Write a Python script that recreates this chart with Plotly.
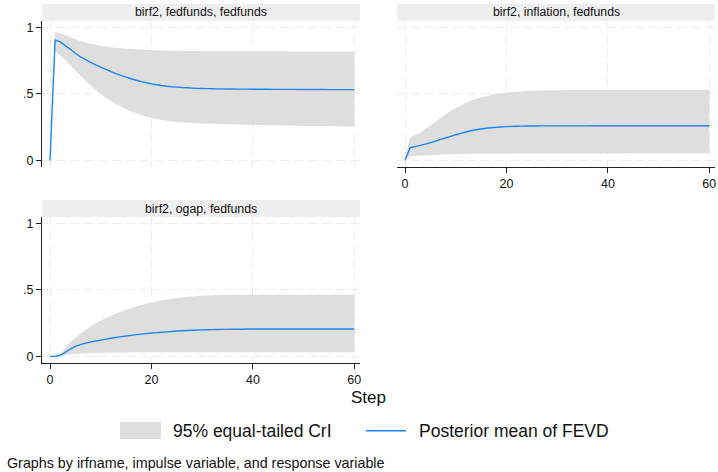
import plotly.graph_objects as go

# ---------------- data ----------------
steps = list(range(61))

titles = ["birf2, fedfunds, fedfunds", "birf2, inflation, fedfunds", "birf2, ogap, fedfunds"]

ff_mean = [0.000, 0.905, 0.890, 0.862, 0.835, 0.805, 0.778, 0.757, 0.737, 0.718,
           0.700, 0.683, 0.667, 0.652, 0.638, 0.625, 0.613, 0.602, 0.592, 0.583,
           0.575, 0.568, 0.562, 0.557, 0.553, 0.550, 0.547, 0.545, 0.543, 0.541,
           0.540, 0.539, 0.538, 0.537, 0.537, 0.536, 0.536, 0.535, 0.535, 0.535,
           0.534, 0.534, 0.534, 0.534, 0.533, 0.533, 0.533, 0.533, 0.533, 0.532,
           0.532, 0.532, 0.532, 0.532, 0.532, 0.531, 0.531, 0.531, 0.531, 0.531, 0.531]
ff_upper = [0.000, 0.967, 0.955, 0.940, 0.925, 0.910, 0.897, 0.886, 0.876, 0.868,
            0.861, 0.855, 0.850, 0.846, 0.842, 0.839, 0.836, 0.834, 0.832, 0.830,
            0.828, 0.827, 0.826, 0.825, 0.824, 0.823, 0.822, 0.822, 0.821, 0.821,
            0.820, 0.820, 0.820, 0.820, 0.820, 0.820, 0.820, 0.819, 0.819, 0.819,
            0.819, 0.819, 0.819, 0.819, 0.819, 0.819, 0.819, 0.818, 0.818, 0.818,
            0.818, 0.818, 0.818, 0.818, 0.818, 0.818, 0.818, 0.818, 0.818, 0.818, 0.818]
ff_lower = [0.000, 0.817, 0.790, 0.755, 0.715, 0.676, 0.638, 0.600, 0.563, 0.530,
            0.499, 0.471, 0.446, 0.423, 0.402, 0.384, 0.368, 0.353, 0.340, 0.328,
            0.318, 0.310, 0.303, 0.297, 0.292, 0.288, 0.285, 0.283, 0.281, 0.279,
            0.277, 0.276, 0.275, 0.274, 0.273, 0.272, 0.271, 0.270, 0.269, 0.268,
            0.267, 0.266, 0.265, 0.264, 0.263, 0.262, 0.262, 0.261, 0.260, 0.260,
            0.259, 0.259, 0.258, 0.258, 0.257, 0.257, 0.256, 0.256, 0.255, 0.255, 0.254]

inf_mean = [0.000, 0.095, 0.103, 0.112, 0.122, 0.133, 0.145, 0.157, 0.168, 0.180,
            0.192, 0.203, 0.213, 0.222, 0.230, 0.236, 0.241, 0.245, 0.248, 0.251,
            0.253, 0.255, 0.256, 0.257, 0.258, 0.258, 0.258, 0.259, 0.259, 0.259,
            0.259, 0.259, 0.259, 0.259, 0.259, 0.259, 0.259, 0.260, 0.260, 0.260,
            0.260, 0.260, 0.260, 0.260, 0.260, 0.260, 0.260, 0.260, 0.260, 0.260,
            0.260, 0.260, 0.260, 0.260, 0.260, 0.260, 0.260, 0.260, 0.260, 0.260, 0.260]
inf_upper = [0.000, 0.173, 0.190, 0.210, 0.235, 0.262, 0.290, 0.318, 0.345, 0.370,
             0.393, 0.413, 0.432, 0.448, 0.461, 0.472, 0.482, 0.491, 0.498, 0.504,
             0.509, 0.513, 0.516, 0.519, 0.521, 0.523, 0.524, 0.525, 0.526, 0.527,
             0.527, 0.527, 0.528, 0.528, 0.528, 0.528, 0.528, 0.528, 0.528, 0.528,
             0.528, 0.528, 0.528, 0.528, 0.528, 0.528, 0.528, 0.528, 0.528, 0.528,
             0.528, 0.528, 0.528, 0.528, 0.528, 0.528, 0.528, 0.528, 0.528, 0.528, 0.528]
inf_lower = [0.000, 0.028, 0.032, 0.035, 0.037, 0.039, 0.041, 0.043, 0.044, 0.046,
             0.047, 0.048, 0.048, 0.049, 0.049, 0.050, 0.050, 0.050, 0.050, 0.050,
             0.051, 0.051, 0.051, 0.051, 0.051, 0.051, 0.051, 0.052, 0.052, 0.052,
             0.052, 0.052, 0.052, 0.052, 0.052, 0.052, 0.052, 0.052, 0.052, 0.052,
             0.052, 0.052, 0.052, 0.052, 0.053, 0.053, 0.053, 0.053, 0.053, 0.053,
             0.053, 0.053, 0.053, 0.053, 0.053, 0.053, 0.053, 0.053, 0.053, 0.053, 0.053]

og_mean = [0.000, 0.000, 0.008, 0.030, 0.055, 0.075, 0.088, 0.099, 0.107, 0.115,
           0.122, 0.129, 0.136, 0.142, 0.148, 0.153, 0.158, 0.163, 0.167, 0.171,
           0.175, 0.178, 0.181, 0.184, 0.187, 0.190, 0.192, 0.194, 0.196, 0.198,
           0.199, 0.200, 0.201, 0.202, 0.203, 0.203, 0.204, 0.204, 0.204, 0.205,
           0.205, 0.205, 0.205, 0.205, 0.205, 0.205, 0.205, 0.205, 0.205, 0.205,
           0.205, 0.205, 0.205, 0.205, 0.205, 0.205, 0.205, 0.205, 0.205, 0.205, 0.205]
og_upper = [0.000, 0.000, 0.012, 0.063, 0.105, 0.140, 0.172, 0.200, 0.225, 0.248,
            0.269, 0.288, 0.305, 0.321, 0.336, 0.350, 0.363, 0.375, 0.386, 0.396,
            0.405, 0.413, 0.420, 0.427, 0.433, 0.438, 0.443, 0.447, 0.450, 0.453,
            0.455, 0.457, 0.459, 0.460, 0.461, 0.462, 0.462, 0.463, 0.463, 0.463,
            0.463, 0.463, 0.463, 0.463, 0.463, 0.463, 0.463, 0.463, 0.463, 0.463,
            0.463, 0.463, 0.463, 0.463, 0.463, 0.463, 0.463, 0.463, 0.463, 0.463, 0.463]
og_lower = [0.000, 0.000, 0.003, 0.010, 0.016, 0.020, 0.022, 0.024, 0.025, 0.026,
            0.027, 0.028, 0.028, 0.029, 0.029, 0.029, 0.030, 0.030, 0.030, 0.030,
            0.030, 0.030, 0.030, 0.030, 0.030, 0.030, 0.030, 0.030, 0.030, 0.030,
            0.030, 0.030, 0.030, 0.030, 0.030, 0.030, 0.030, 0.030, 0.030, 0.030,
            0.030, 0.030, 0.030, 0.030, 0.030, 0.030, 0.030, 0.030, 0.030, 0.030,
            0.030, 0.030, 0.030, 0.030, 0.030, 0.030, 0.030, 0.030, 0.030, 0.030, 0.030]

x_ticks = [0, 20, 40, 60]
y_ticks = [0, 0.5, 1]
y_ticklabels = ["0", ".5", "1"]

legend_labels = ["95% equal-tailed CrI", "Posterior mean of FEVD"]
x_title = "Step"
note = "Graphs by irfname, impulse variable, and response variable"

# ---------------- styling ----------------
W, H = 718, 472
FONT = "Liberation Sans, Arial, Helvetica, sans-serif"
BAND = "#dedede"
LINE = "#1a85ff"
STRIP = "#efefef"
AXC = "#222222"
GRID = "#ececec"

def xd(a, b):
    return [a / W, b / W]

def yd(top, bottom):
    return [1 - bottom / H, 1 - top / H]

panels = [
    dict(data=(ff_mean, ff_upper, ff_lower), x=(42, 360), y=(21, 167), xline=False, yline=True),
    dict(data=(inf_mean, inf_upper, inf_lower), x=(397, 715), y=(21, 167), xline=True, yline=False),
    dict(data=(og_mean, og_upper, og_lower), x=(42, 360), y=(217, 363), xline=True, yline=True),
]

fig = go.Figure()
shapes = []
annotations = []

for i, p in enumerate(panels):
    n = "" if i == 0 else str(i + 1)
    xa, ya = "x" + n, "y" + n
    mean, upper, lower = p["data"]
    fig.add_trace(go.Scatter(x=steps, y=lower, mode="lines",
                             line=dict(width=0, color=BAND, simplify=False),
                             xaxis=xa, yaxis=ya, showlegend=False, hoverinfo="skip"))
    fig.add_trace(go.Scatter(x=steps, y=upper, mode="lines",
                             line=dict(width=0, color=BAND, simplify=False),
                             fill="tonexty", fillcolor=BAND,
                             xaxis=xa, yaxis=ya, showlegend=False, hoverinfo="skip"))
    fig.add_trace(go.Scatter(x=steps, y=mean, mode="lines",
                             line=dict(width=1.4, color=LINE, simplify=False),
                             xaxis=xa, yaxis=ya, showlegend=False))

    xk = "xaxis" + n
    yk = "yaxis" + n
    fig.layout[xk] = dict(
        domain=xd(*p["x"]), range=[-1.58, 61.12], anchor=ya,
        tickvals=x_ticks, showgrid=True, gridcolor=GRID, griddash="9px,5px", gridwidth=1,
        zeroline=False,
        showline=p["xline"], linecolor=AXC, linewidth=1.3,
        ticks="outside" if p["xline"] else "", ticklen=5, tickcolor=AXC, tickwidth=1.2,
        showticklabels=p["xline"], tickfont=dict(family=FONT, size=12.5, color="#111"),
        fixedrange=True,
    )
    fig.layout[yk] = dict(
        domain=yd(*p["y"]), range=[-0.05, 1.047], anchor=xa,
        tickvals=y_ticks, ticktext=y_ticklabels,
        showgrid=True, gridcolor=GRID, griddash="9px,5px", gridwidth=1,
        zeroline=False,
        showline=p["yline"], linecolor=AXC, linewidth=1.3,
        ticks="outside" if p["yline"] else "", ticklen=5, tickcolor=AXC, tickwidth=1.2,
        showticklabels=p["yline"], tickfont=dict(family=FONT, size=12.5, color="#111"),
        fixedrange=True,
    )

    # header strip
    x0, x1 = p["x"]
    top = p["y"][0]
    shapes.append(dict(type="rect", xref="paper", yref="paper",
                       x0=x0 / W, x1=x1 / W, y0=1 - top / H, y1=1 - (top - 17) / H,
                       fillcolor=STRIP, line=dict(width=0), layer="below"))
    annotations.append(dict(text=titles[i], xref="paper", yref="paper",
                            x=(x0 + x1) / 2 / W, y=1 - (top - 8.5) / H,
                            xanchor="center", yanchor="middle", showarrow=False,
                            font=dict(family=FONT, size=12.3, color="#111")))

# x-axis title
annotations.append(dict(text=x_title, xref="paper", yref="paper", x=368 / W, y=1 - 397 / H,
                        xanchor="center", yanchor="middle", showarrow=False,
                        font=dict(family=FONT, size=17, color="#111")))

# legend (manual)
shapes.append(dict(type="rect", xref="paper", yref="paper",
                   x0=120 / W, x1=161 / W, y0=1 - 439 / H, y1=1 - 422 / H,
                   fillcolor=BAND, line=dict(width=0)))
shapes.append(dict(type="line", xref="paper", yref="paper",
                   x0=366 / W, x1=406 / W, y0=1 - 430.7 / H, y1=1 - 430.7 / H,
                   line=dict(color=LINE, width=1.6)))
annotations.append(dict(text=legend_labels[0], xref="paper", yref="paper", x=171 / W, y=1 - 430.5 / H,
                        xanchor="left", yanchor="middle", showarrow=False,
                        font=dict(family=FONT, size=17.5, color="#111")))
annotations.append(dict(text=legend_labels[1], xref="paper", yref="paper", x=417 / W, y=1 - 430.5 / H,
                        xanchor="left", yanchor="middle", showarrow=False,
                        font=dict(family=FONT, size=17.5, color="#111")))

# note
annotations.append(dict(text=note, xref="paper", yref="paper", x=5 / W, y=1 - 463 / H,
                        xanchor="left", yanchor="middle", showarrow=False,
                        font=dict(family=FONT, size=14.3, color="#111")))

fig.update_layout(
    width=W, height=H,
    margin=dict(l=0, r=0, t=0, b=0),
    paper_bgcolor="white", plot_bgcolor="white",
    shapes=shapes, annotations=annotations,
    showlegend=False,
    font=dict(family=FONT),
)

fig.write_html(
    "out.html",
    config=dict(displayModeBar=False),
    post_script="document.body.style.margin='0';document.body.style.overflow='hidden';",
)
